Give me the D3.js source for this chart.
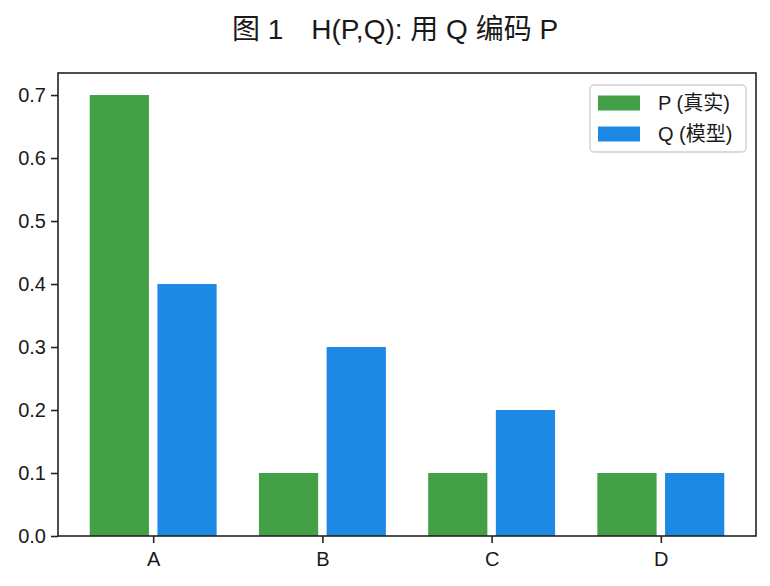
<!DOCTYPE html>
<html><head><meta charset="utf-8">
<script src="https://cdn.jsdelivr.net/npm/d3@7"></script>
<style>
html,body{margin:0;padding:0;background:#fff;}
text{font-family:"Liberation Sans","Noto Sans CJK SC",sans-serif;fill:#1a1a1a;}
</style></head>
<body>
<svg id="chart" width="770" height="586"></svg>
<script>
const categories = ["A","B","C","D"];
const seriesNames = ["P (真实)","Q (模型)"];
const seriesColors = ["#43a047","#1e88e5"];
const pValues = [0.7,0.1,0.1,0.1];
const qValues = [0.4,0.3,0.2,0.1];
const yTicks = [0.0,0.1,0.2,0.3,0.4,0.5,0.6,0.7];
const title = "图 1\u3000H(P,Q): 用 Q 编码 P";

const series = [pValues, qValues];
const svg = d3.select("#chart");
const m = {left:58, right:756, top:73, bottom:536};
const x = d3.scaleLinear().domain([-0.5625, 3.5625]).range([m.left, m.right]);
const y = d3.scaleLinear().domain([0, 0.735]).range([m.bottom, m.top]);
const barW = 0.35, off = [-0.2, 0.2];

series.forEach((vals, si) => {
  svg.append("g").selectAll("rect").data(vals).join("rect")
    .attr("x", (d,i) => x(i + off[si] - barW/2))
    .attr("width", (d,i) => x(i + off[si] + barW/2) - x(i + off[si] - barW/2))
    .attr("y", d => y(d))
    .attr("height", d => y(0) - y(d))
    .attr("fill", seriesColors[si]);
});

// axes
const yAxis = d3.axisLeft(y).tickValues(yTicks).tickFormat(d3.format(".1f")).tickSize(7).tickPadding(5);
const gy = svg.append("g").attr("transform", `translate(${m.left},0)`).call(yAxis);
const xAxis = d3.axisBottom(x).tickValues([0,1,2,3]).tickFormat(i => categories[i]).tickSize(7).tickPadding(9);
const gx = svg.append("g").attr("transform", `translate(0,${m.bottom})`).call(xAxis);
[gx, gy].forEach(g => {
  g.select(".domain").remove();
  g.selectAll(".tick line").attr("stroke","#222").attr("stroke-width",1.6);
  g.selectAll(".tick text").attr("font-size",20).attr("fill","#1a1a1a");
});

// frame
svg.append("rect").attr("x", m.left).attr("y", m.top)
  .attr("width", m.right - m.left).attr("height", m.bottom - m.top)
  .attr("fill","none").attr("stroke","#222").attr("stroke-width",1.6);

// title
svg.append("text").attr("x", 395).attr("y", 39)
  .attr("text-anchor","middle").attr("font-size",28).text(title);

// legend
const lg = svg.append("g");
lg.append("rect").attr("x",590).attr("y",85).attr("width",156).attr("height",67)
  .attr("rx",4).attr("fill","#fff").attr("fill-opacity",0.8)
  .attr("stroke","#d0d0d0").attr("stroke-width",1.4);
seriesNames.forEach((name, i) => {
  const cy = 103 + i*31;
  lg.append("rect").attr("x",598).attr("y",cy-7.5).attr("width",42).attr("height",15)
    .attr("fill", seriesColors[i]);
  lg.append("text").attr("x",658).attr("y",cy).attr("dy","0.36em")
    .attr("font-size",20).text(name);
});
</script>
</body></html>
